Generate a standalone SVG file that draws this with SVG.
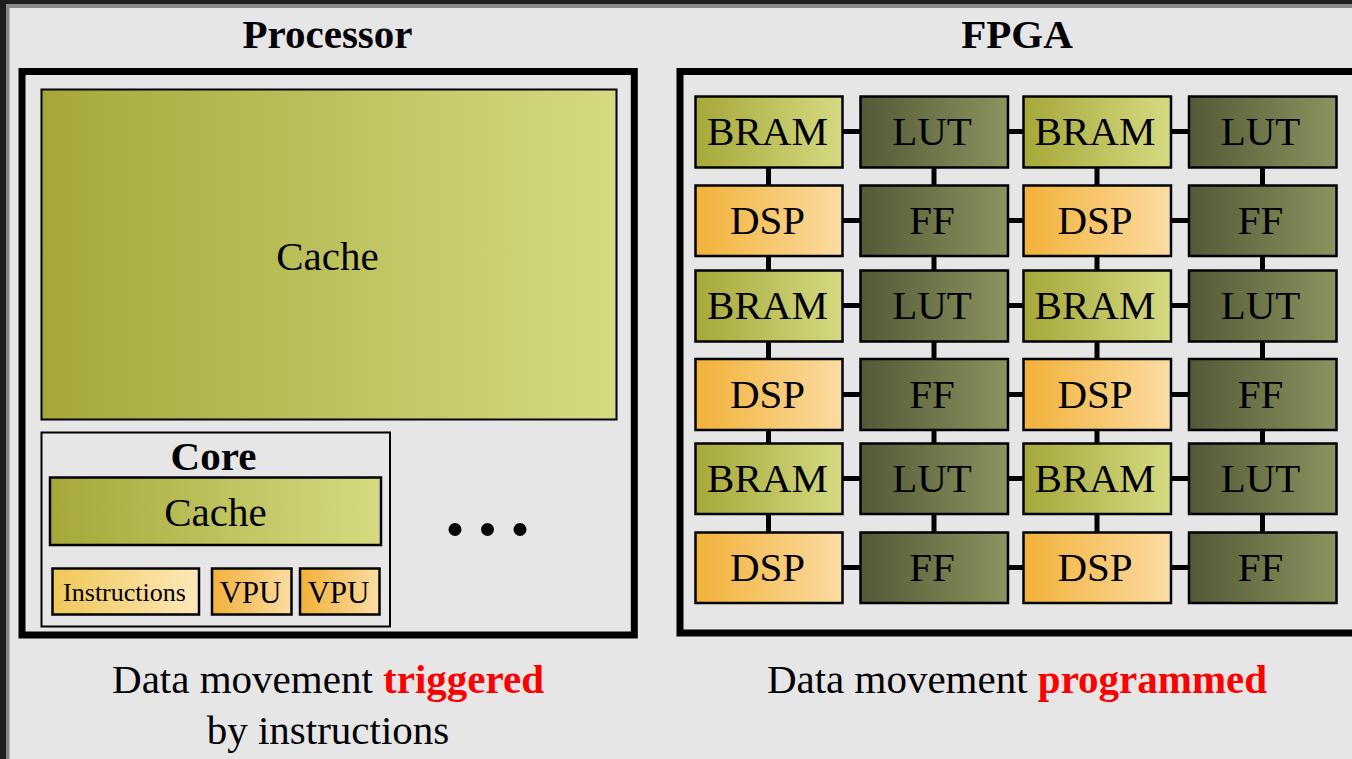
<svg xmlns="http://www.w3.org/2000/svg" width="1352" height="759" viewBox="0 0 1352 759">
<defs>
<linearGradient id="gOlive" x1="0" y1="0" x2="1" y2="0"><stop offset="0" stop-color="#a5a838"/><stop offset="1" stop-color="#d5da82"/></linearGradient>
<linearGradient id="gDark" x1="0" y1="0" x2="1" y2="0"><stop offset="0" stop-color="#535936"/><stop offset="1" stop-color="#8b935f"/></linearGradient>
<linearGradient id="gDsp" x1="0" y1="0" x2="1" y2="0"><stop offset="0" stop-color="#f2b139"/><stop offset="1" stop-color="#fbdca2"/></linearGradient>
<linearGradient id="gIns" x1="0" y1="0" x2="1" y2="0"><stop offset="0" stop-color="#f0c856"/><stop offset="1" stop-color="#fde8ba"/></linearGradient>
<style>
.t{font-family:"Liberation Serif","Times New Roman",serif;fill:#000;text-anchor:middle}
.b{font-weight:bold}
.cell{stroke:#000;stroke-width:2.5}
.box{fill:none;stroke:#000;stroke-width:7}
.wire{stroke:#000;stroke-width:5;fill:none}
.red{fill:#ff0000;font-weight:bold}
.ct{font-size:41px}
</style>
</defs>
<rect x="0" y="0" width="1352" height="759" fill="#1e1e1e"/>
<rect x="6" y="4" width="1346" height="755" fill="#888"/>
<rect x="9.5" y="8" width="1343" height="751" fill="#e6e6e6"/>

<g id="processor">
<text class="t b" x="327.5" y="48" font-size="41">Processor</text>
<rect class="box" x="22" y="71.5" width="612.3" height="563.5"/>
</g>
<g id="cache-main">
<rect x="41.5" y="89.5" width="575" height="330" fill="url(#gOlive)" stroke="#000" stroke-width="2"/>
<text class="t" x="327.5" y="270" font-size="41">Cache</text>
</g>
<g id="core">
<rect x="41.5" y="432.5" width="348.5" height="194" fill="none" stroke="#000" stroke-width="2"/>
<text class="t b" x="213.5" y="470" font-size="41">Core</text>
</g>
<g id="core-cache">
<rect x="50" y="477.5" width="331" height="67.5" fill="url(#gOlive)" stroke="#000" stroke-width="2.5"/>
<text class="t" x="215.5" y="526" font-size="41">Cache</text>
</g>
<g id="instructions">
<rect x="52.5" y="568.5" width="146.5" height="46" fill="url(#gIns)" stroke="#000" stroke-width="2.5"/>
<text class="t" x="124.5" y="601" font-size="26">Instructions</text>
</g>
<g id="vpu1">
<rect x="212" y="568.5" width="79.5" height="46" fill="url(#gDsp)" stroke="#000" stroke-width="2.5"/>
<text class="t" x="250.5" y="603" font-size="31">VPU</text>
</g>
<g id="vpu2">
<rect x="300" y="568.5" width="79.5" height="46" fill="url(#gDsp)" stroke="#000" stroke-width="2.5"/>
<text class="t" x="338.5" y="603" font-size="31">VPU</text>
</g>
<g id="ellipsis">
<circle cx="455" cy="529.5" r="6.5" fill="#000"/>
<circle cx="487.5" cy="529.5" r="6.5" fill="#000"/>
<circle cx="520" cy="529.5" r="6.5" fill="#000"/>
</g>
<g id="caption-left">
<text class="t" x="328" y="692.5" font-size="41">Data movement <tspan class="red">triggered</tspan></text>
<text class="t" x="328" y="744" font-size="41">by instructions</text>
</g>

<g id="fpga">
<text class="t b" x="1017" y="48" font-size="41">FPGA</text>
<rect class="box" x="680" y="71.5" width="700" height="561.5"/>
</g>

<g id="connectors">
<path class="wire" d="M842 131.5H861M1008 131.5H1024M1171 131.5H1189
M842 220.5H861M1008 220.5H1024M1171 220.5H1189
M842 305.5H861M1008 305.5H1024M1171 305.5H1189
M842 394.5H861M1008 394.5H1024M1171 394.5H1189
M842 478.5H861M1008 478.5H1024M1171 478.5H1189
M842 567.5H861M1008 567.5H1024M1171 567.5H1189
M768.5 167V185M934 167V185M1097 167V185M1262.5 167V185
M768.5 256V270M934 256V270M1097 256V270M1262.5 256V270
M768.5 341V359M934 341V359M1097 341V359M1262.5 341V359
M768.5 430V443M934 430V443M1097 430V443M1262.5 430V443
M768.5 514V532M934 514V532M1097 514V532M1262.5 514V532"/>
</g>

<g id="r1c1"><rect class="cell" x="695.5" y="96.5" width="147" height="71" fill="url(#gOlive)"/><text class="t ct" x="767.5" y="145" >BRAM</text></g>
<g id="r1c2"><rect class="cell" x="860.5" y="96.5" width="147.5" height="71" fill="url(#gDark)"/><text class="t ct" x="932" y="145">LUT</text></g>
<g id="r1c3"><rect class="cell" x="1023.5" y="96.5" width="147.5" height="71" fill="url(#gOlive)"/><text class="t ct" x="1095" y="145">BRAM</text></g>
<g id="r1c4"><rect class="cell" x="1189" y="96.5" width="147.5" height="71" fill="url(#gDark)"/><text class="t ct" x="1260.5" y="145">LUT</text></g>

<g id="r2c1"><rect class="cell" x="695.5" y="185.5" width="147" height="70.5" fill="url(#gDsp)"/><text class="t ct" x="767.5" y="234">DSP</text></g>
<g id="r2c2"><rect class="cell" x="860.5" y="185.5" width="147.5" height="70.5" fill="url(#gDark)"/><text class="t ct" x="932" y="234">FF</text></g>
<g id="r2c3"><rect class="cell" x="1023.5" y="185.5" width="147.5" height="70.5" fill="url(#gDsp)"/><text class="t ct" x="1095" y="234">DSP</text></g>
<g id="r2c4"><rect class="cell" x="1189" y="185.5" width="147.5" height="70.5" fill="url(#gDark)"/><text class="t ct" x="1260.5" y="234">FF</text></g>

<g id="r3c1"><rect class="cell" x="695.5" y="270.5" width="147" height="71" fill="url(#gOlive)"/><text class="t ct" x="767.5" y="319">BRAM</text></g>
<g id="r3c2"><rect class="cell" x="860.5" y="270.5" width="147.5" height="71" fill="url(#gDark)"/><text class="t ct" x="932" y="319">LUT</text></g>
<g id="r3c3"><rect class="cell" x="1023.5" y="270.5" width="147.5" height="71" fill="url(#gOlive)"/><text class="t ct" x="1095" y="319">BRAM</text></g>
<g id="r3c4"><rect class="cell" x="1189" y="270.5" width="147.5" height="71" fill="url(#gDark)"/><text class="t ct" x="1260.5" y="319">LUT</text></g>

<g id="r4c1"><rect class="cell" x="695.5" y="359" width="147" height="71" fill="url(#gDsp)"/><text class="t ct" x="767.5" y="407.5">DSP</text></g>
<g id="r4c2"><rect class="cell" x="860.5" y="359" width="147.5" height="71" fill="url(#gDark)"/><text class="t ct" x="932" y="407.5">FF</text></g>
<g id="r4c3"><rect class="cell" x="1023.5" y="359" width="147.5" height="71" fill="url(#gDsp)"/><text class="t ct" x="1095" y="407.5">DSP</text></g>
<g id="r4c4"><rect class="cell" x="1189" y="359" width="147.5" height="71" fill="url(#gDark)"/><text class="t ct" x="1260.5" y="407.5">FF</text></g>

<g id="r5c1"><rect class="cell" x="695.5" y="443.5" width="147" height="70.5" fill="url(#gOlive)"/><text class="t ct" x="767.5" y="492">BRAM</text></g>
<g id="r5c2"><rect class="cell" x="860.5" y="443.5" width="147.5" height="70.5" fill="url(#gDark)"/><text class="t ct" x="932" y="492">LUT</text></g>
<g id="r5c3"><rect class="cell" x="1023.5" y="443.5" width="147.5" height="70.5" fill="url(#gOlive)"/><text class="t ct" x="1095" y="492">BRAM</text></g>
<g id="r5c4"><rect class="cell" x="1189" y="443.5" width="147.5" height="70.5" fill="url(#gDark)"/><text class="t ct" x="1260.5" y="492">LUT</text></g>

<g id="r6c1"><rect class="cell" x="695.5" y="532.5" width="147" height="70.5" fill="url(#gDsp)"/><text class="t ct" x="767.5" y="581">DSP</text></g>
<g id="r6c2"><rect class="cell" x="860.5" y="532.5" width="147.5" height="70.5" fill="url(#gDark)"/><text class="t ct" x="932" y="581">FF</text></g>
<g id="r6c3"><rect class="cell" x="1023.5" y="532.5" width="147.5" height="70.5" fill="url(#gDsp)"/><text class="t ct" x="1095" y="581">DSP</text></g>
<g id="r6c4"><rect class="cell" x="1189" y="532.5" width="147.5" height="70.5" fill="url(#gDark)"/><text class="t ct" x="1260.5" y="581">FF</text></g>

<g id="caption-right">
<text class="t" x="1017" y="692.5" font-size="41">Data movement <tspan class="red">programmed</tspan></text>
</g>
</svg>
